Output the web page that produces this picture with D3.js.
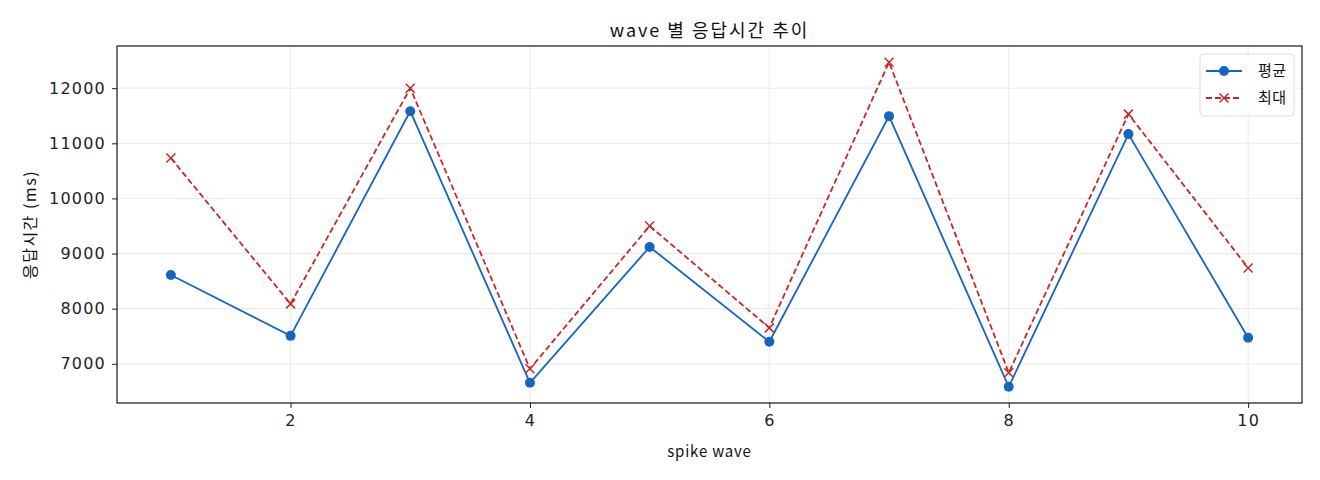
<!DOCTYPE html>
<html>
<head>
<meta charset="utf-8">
<script src="https://cdn.jsdelivr.net/npm/d3@7"></script>
<style>
  body { margin: 0; background: #fff; }
  svg { font-family: "Noto Sans CJK KR", "Noto Sans", sans-serif; }
</style>
</head>
<body>
<div id="chart"></div>
<script>
// values
const waves = [1, 2, 3, 4, 5, 6, 7, 8, 9, 10];
const avgMs = [8612, 7507, 11583, 6656, 9120, 7399, 11493, 6583, 11167, 7471];
const maxMs = [10732, 8087, 12000, 6909, 9500, 7652, 12471, 6837, 11529, 8739];
const xTicks = [2, 4, 6, 8, 10];
const yTicks = [7000, 8000, 9000, 10000, 11000, 12000];

const W = 1320, H = 480;
const margin = {top: 46, right: 18, bottom: 77, left: 117};
const width = W - margin.left - margin.right;
const height = H - margin.top - margin.bottom;

const svg = d3.select("#chart").append("svg")
    .attr("width", W).attr("height", H);

const g = svg.append("g")
    .attr("transform", `translate(${margin.left},${margin.top})`);

const x = d3.scaleLinear().domain([0.55, 10.45]).range([0, width]);
const all = avgMs.concat(maxMs);
const lo = d3.min(all), hi = d3.max(all), pad = (hi - lo) * 0.05;
const y = d3.scaleLinear().domain([lo - pad, hi + pad]).range([height, 0]);

// grid
g.append("g").selectAll("line").data(xTicks).join("line")
    .attr("x1", d => x(d)).attr("x2", d => x(d))
    .attr("y1", 0).attr("y2", height)
    .attr("stroke", "#e4e4e4").attr("stroke-width", 0.8);
g.append("g").selectAll("line").data(yTicks).join("line")
    .attr("x1", 0).attr("x2", width)
    .attr("y1", d => y(d)).attr("y2", d => y(d))
    .attr("stroke", "#e4e4e4").attr("stroke-width", 0.8);

// axes
const xAxis = g.append("g")
    .attr("transform", `translate(0,${height})`)
    .call(d3.axisBottom(x).tickValues(xTicks).tickSize(5).tickPadding(7).tickFormat(d3.format("d")));
const yAxis = g.append("g")
    .call(d3.axisLeft(y).tickValues(yTicks).tickSize(5).tickPadding(6).tickFormat(d3.format("d")));
[xAxis, yAxis].forEach(a => {
  a.select(".domain").remove();
  a.attr("font-family", null);
  a.selectAll("text").attr("font-size", 16).attr("fill", "#222")
    .attr("letter-spacing", 1.2)
    .style("font-family", "'DejaVu Sans', sans-serif");
  a.selectAll("line").attr("stroke", "#222");
});

// frame
g.append("rect").attr("width", width).attr("height", height)
    .attr("fill", "none").attr("stroke", "#000").attr("stroke-width", 1.1);

// lines
const line = d3.line().x((d, i) => x(waves[i])).y(d => y(d));
g.append("path").datum(avgMs).attr("d", line)
    .attr("fill", "none").attr("stroke", "#1565C0").attr("stroke-width", 1.8);
g.append("path").datum(maxMs).attr("d", line)
    .attr("fill", "none").attr("stroke", "#C62828").attr("stroke-width", 1.8)
    .attr("stroke-dasharray", "6,3");

g.append("g").selectAll("circle").data(avgMs).join("circle")
    .attr("cx", (d, i) => x(waves[i])).attr("cy", d => y(d))
    .attr("r", 5).attr("fill", "#1565C0");

const cross = (sel, s) => sel.attr("d", `M${-s},${-s}L${s},${s}M${-s},${s}L${s},${-s}`)
    .attr("stroke", "#C62828").attr("stroke-width", 1.5).attr("fill", "none");
g.append("g").selectAll("path").data(maxMs).join("path")
    .attr("transform", (d, i) => `translate(${x(waves[i])},${y(d)})`)
    .call(cross, 4.5);

// title + labels
svg.append("text").attr("x", margin.left + width / 2).attr("y", 37)
    .attr("text-anchor", "middle").attr("font-size", 18).attr("fill", "#111")
    .attr("letter-spacing", 2)
    .text("wave 별 응답시간 추이");
svg.append("text").attr("x", margin.left + width / 2).attr("y", 457)
    .attr("text-anchor", "middle").attr("font-size", 15).attr("fill", "#111")
    .attr("letter-spacing", 0.8)
    .text("spike wave");
svg.append("text")
    .attr("transform", `translate(36,${margin.top + height / 2}) rotate(-90)`)
    .attr("text-anchor", "middle").attr("font-size", 16).attr("fill", "#111")
    .attr("letter-spacing", 1.5)
    .text("응답시간 (ms)");

// legend
const lg = g.append("g").attr("transform", `translate(${width - 102},8)`);
lg.append("rect").attr("width", 94).attr("height", 62).attr("rx", 4)
    .attr("fill", "#fff").attr("fill-opacity", 0.8)
    .attr("stroke", "#ddd");
const items = [
  {name: "평균", color: "#1565C0", dash: null, mark: "circle"},
  {name: "최대", color: "#C62828", dash: "6,3", mark: "cross"}
];
items.forEach((it, i) => {
  const row = lg.append("g").attr("transform", `translate(6,${17 + i * 27})`);
  row.append("line").attr("x1", 0).attr("x2", 36)
      .attr("stroke", it.color).attr("stroke-width", 1.8)
      .attr("stroke-dasharray", it.dash);
  if (it.mark === "circle") {
    row.append("circle").attr("cx", 18).attr("r", 5).attr("fill", it.color);
  } else {
    row.append("path").attr("transform", "translate(18,0)").call(cross, 4.5);
  }
  row.append("text").attr("x", 52).attr("y", 5).attr("font-size", 15)
      .attr("letter-spacing", 0.5)
      .attr("fill", "#111").text(it.name);
});
</script>
</body>
</html>
